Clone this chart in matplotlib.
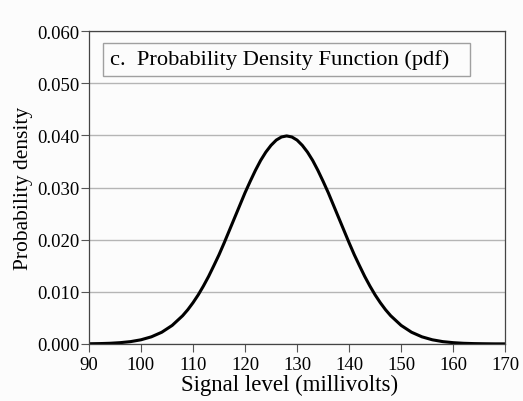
import matplotlib
matplotlib.use("Agg")
import matplotlib.pyplot as plt
from matplotlib.patches import Rectangle

# signal level (mV) and probability density
signal_mv = [90, 92, 94, 96, 98, 100, 102, 104, 106,
             108, 109, 110, 111, 112, 113, 114, 115, 116, 117, 118, 119,
             120, 121, 122, 123, 124, 125, 126, 127, 128, 129, 130, 131,
             132, 133, 134, 135, 136, 137, 138, 139, 140, 141, 142, 143,
             144, 145, 146, 147, 148,
             150, 152, 154, 156, 158, 160, 162, 164, 166, 168, 170]
density = [0.00003, 0.00006, 0.00012, 0.00024, 0.00044, 0.00079, 0.00136, 0.00224, 0.00355,
           0.0054, 0.00656, 0.0079, 0.0094, 0.0111, 0.01295, 0.0150, 0.0171, 0.0194, 0.0218,
           0.0242, 0.0266,
           0.0290, 0.0312, 0.0333, 0.0352, 0.0368, 0.0381, 0.0391, 0.0397, 0.0399, 0.0397,
           0.0391, 0.0381,
           0.0368, 0.0352, 0.0333, 0.0312, 0.0290, 0.0266, 0.0242, 0.0218, 0.0194, 0.0171,
           0.0150, 0.01295,
           0.0111, 0.0094, 0.0079, 0.00656, 0.0054,
           0.00355, 0.00224, 0.00136, 0.00079, 0.00044, 0.00024, 0.00012, 0.00006,
           0.00003, 0.00001, 0.00001]

x_ticks = [90, 100, 110, 120, 130, 140, 150, 160, 170]
y_ticks = [0.0, 0.01, 0.02, 0.03, 0.04, 0.05, 0.06]

plt.rcParams["font.family"] = ["Liberation Serif", "DejaVu Serif"]

fig = plt.figure(figsize=(5.23, 4.02), dpi=100)
fig.patch.set_facecolor("#fcfcfc")
ax = fig.add_axes([0.170, 0.142, 0.796, 0.778])
ax.set_facecolor("#fcfcfc")

ax.set_axisbelow(True)
ax.grid(axis="y", color="#b5b5b5", linewidth=1.0)
ax.plot(signal_mv, density, color="black", linewidth=2.2,
        solid_capstyle="round", solid_joinstyle="round")

ax.set_xlim(90, 170)
ax.set_ylim(0, 0.06)
ax.set_xticks(x_ticks)
ax.set_yticks(y_ticks)
ax.set_yticklabels([f"{v:.3f}" for v in y_ticks])
ax.tick_params(direction="out", width=0.8, color="#555555", labelsize=13.5)
ax.tick_params(axis="y", length=6, pad=1)
ax.tick_params(axis="x", length=6, pad=3)

for s in ax.spines.values():
    s.set_color("#444444")
    s.set_linewidth(0.9)

ax.set_xlabel("Signal level (millivolts)", fontsize=16.5)
ax.xaxis.set_label_coords(0.481, -0.095)
ax.set_ylabel("Probability density", fontsize=15.5, labelpad=3)

# title box
ax.add_patch(Rectangle((0.034, 0.856), 0.882, 0.106, transform=ax.transAxes,
                       facecolor="#fcfcfc", edgecolor="#a0a0a0", linewidth=1.0,
                       zorder=3))
ax.text(0.050, 0.911, "c.  Probability Density Function (pdf)", transform=ax.transAxes,
        fontsize=16.2, va="center", ha="left", zorder=4)

fig.savefig("out.png", dpi=100, facecolor=fig.get_facecolor())
